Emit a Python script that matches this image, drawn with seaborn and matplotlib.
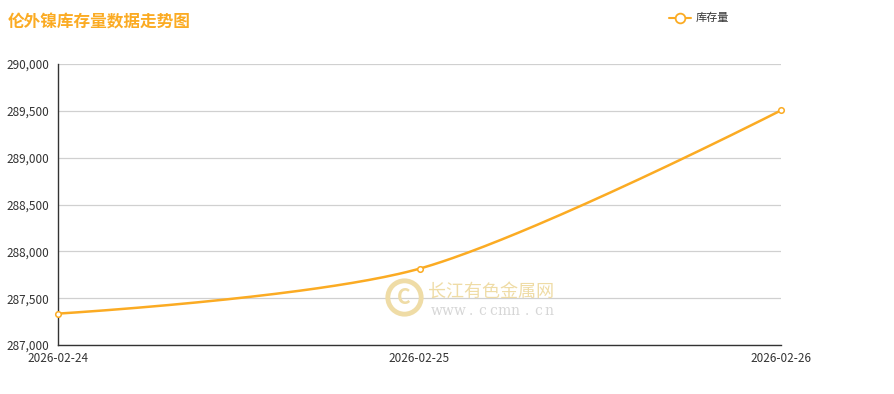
import numpy as np
import pandas as pd
import matplotlib
matplotlib.use("Agg")
import matplotlib.pyplot as plt
import seaborn as sns

dates = ["2026-02-24", "2026-02-25", "2026-02-26"]
stock = [287335, 287815, 289505]
yticks = [287000, 287500, 288000, 288500, 289000, 289500, 290000]
title = "伦外镍库存量数据走势图"
series_name = "库存量"
wm_site = "长江有色金属网"
wm_url = "www.ccmn.cn"

sns.set_theme(style="white")
plt.rcParams['font.family'] = ['Noto Sans CJK SC', 'DejaVu Sans']

ORANGE = "#fbab23"
df = pd.DataFrame({"idx": np.arange(len(dates)), "stock": stock})

fig = plt.figure(figsize=(8.94, 3.94), dpi=100)
ax = fig.add_axes([58/894, 1-345/394, (781-58)/894, (345-64)/394])
ax.set_xlim(0, len(dates)-1)
ax.set_ylim(yticks[0], yticks[-1])
fig.canvas.draw()

# smooth curve (ECharts-like cubic Bezier) computed in display space
pts = ax.transData.transform(np.column_stack([df["idx"], df["stock"]]))
smooth = 0.3
n = len(pts)
cps = []
for i in range(n):
    if i == 0 or i == n-1:
        cps.append((pts[i], pts[i]))
        continue
    prev, nxt = pts[i-1], pts[i+1]
    v = (nxt - prev) * smooth
    d0 = np.linalg.norm(pts[i] - prev)
    d1 = np.linalg.norm(nxt - pts[i])
    s = d0 + d1
    cps.append((pts[i] - v * d0 / s, pts[i] + v * d1 / s))
t = np.linspace(0, 1, 80)[:, None]
curve = []
for i in range(n-1):
    p0 = pts[i]; p1 = cps[i][1]; p2 = cps[i+1][0]; p3 = pts[i+1]
    seg = (1-t)**3*p0 + 3*(1-t)**2*t*p1 + 3*(1-t)*t**2*p2 + t**3*p3
    curve.append(seg)
curve = np.vstack(curve)
curve_data = ax.transData.inverted().transform(curve)
ax.plot(curve_data[:, 0], curve_data[:, 1], color=ORANGE, lw=1.8, zorder=3)

sns.scatterplot(data=df, x="idx", y="stock", ax=ax, marker="o", s=16,
                facecolor="white", edgecolor=ORANGE, linewidth=1.1, zorder=4, clip_on=False)

ax.set_xticks(range(len(dates)))
ax.set_xticklabels(dates)
ax.set_yticks(yticks)
ax.set_yticklabels([f"{v:,}" for v in yticks])
ax.set_xlabel("")
ax.set_ylabel("")
ax.grid(axis="y", color="#d0d0d0", lw=0.9)
ax.set_axisbelow(True)
for s in ["top", "right"]:
    ax.spines[s].set_visible(False)
for s in ["left", "bottom"]:
    ax.spines[s].set_color("#333333")
    ax.spines[s].set_linewidth(1.0)
ax.tick_params(axis="both", colors="#333333", labelsize=8.5, length=4, width=1, direction="out")
ax.tick_params(axis="y", pad=2)
ax.tick_params(axis="x", pad=1)
ax.set_xlim(0, len(dates)-1)
ax.set_ylim(yticks[0], yticks[-1])

# title
fig.text(8/894, 1-22/394, title, color=ORANGE, fontsize=12, fontweight="bold",
         va="center", ha="left")

# legend
lx0, lx1, ly = 669/894, 691/894, 1-18/394
fig.add_artist(plt.Line2D([lx0, lx1], [ly, ly], color=ORANGE, lw=1.5, transform=fig.transFigure))
fig.add_artist(plt.Line2D([(lx0+lx1)/2], [ly], marker="o", markersize=7, markerfacecolor="white",
                          markeredgecolor=ORANGE, markeredgewidth=1.3, transform=fig.transFigure))
fig.text(696/894, ly, series_name, color="#333333", fontsize=8, va="center", ha="left")

# watermark
wm = "#efdca6"
logo = plt.Line2D([404/894], [1-297/394], marker="o", markersize=24, markerfacecolor="none",
                  markeredgecolor=wm, markeredgewidth=3.5, transform=fig.transFigure)
fig.add_artist(logo)
fig.text(404/894, 1-297/394, "C", color=wm, fontsize=15, fontweight="bold", ha="center", va="center")
fig.text(428/894, 1-292/394, wm_site, color=wm, fontsize=13, ha="left", va="center")
for k, ch in enumerate(wm_url):
    fig.text((437 + k*11.2)/894, 1-311/394, ch, color="#d6d6d6", fontsize=10,
             ha="center", va="center", family=["DejaVu Serif"])

fig.savefig("out.png", dpi=100)
